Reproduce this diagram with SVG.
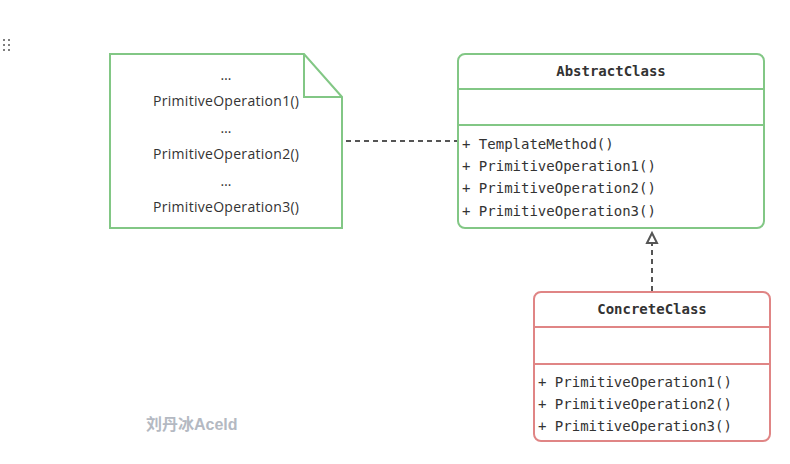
<svg xmlns="http://www.w3.org/2000/svg" width="790" height="464" viewBox="0 0 790 464">
<defs>
<style>
.note{font-family:"Open Sans","Liberation Sans",sans-serif;font-size:14px;fill:#333;text-anchor:middle}
.mono{font-family:"DejaVu Sans Mono","Liberation Mono",monospace;font-size:14px;fill:#333}
.title{font-weight:bold;text-anchor:middle}
.green{fill:#fff;stroke:#82c785;stroke-width:2}
.gline{fill:none;stroke:#82c785;stroke-width:2}
.red{fill:#fff;stroke:#e08585;stroke-width:2}
.rline{fill:none;stroke:#e08585;stroke-width:2}
.conn{fill:none;stroke:#555;stroke-width:2;stroke-dasharray:5 4}
</style>
<marker id="tri" markerWidth="14" markerHeight="14" refX="6" refY="7" orient="auto" markerUnits="userSpaceOnUse">
<path d="M1,2 L11,7 L1,12 Z" fill="#fff" stroke="#555" stroke-width="2"/>
</marker>
</defs>
<rect width="790" height="464" fill="#fff"/>
<g id="handle" fill="#555">
<circle cx="4" cy="40" r="1"/><circle cx="9" cy="40" r="1"/>
<circle cx="4" cy="45" r="1"/><circle cx="9" cy="45" r="1"/>
<circle cx="4" cy="50" r="1"/><circle cx="9" cy="50" r="1"/>
</g>
<g id="connectors">
<path class="conn" d="M346,141 L457,141"/>
<path class="conn" d="M652,291 L652,238" marker-end="url(#tri)"/>
</g>
<g id="note">
<path class="green" d="M110,54 L304,54 L342,97 L342,228 L110,228 Z"/>
<path class="gline" d="M304,54 L304,97 L342,97"/>
<text class="note" x="226" y="80">…</text>
<text class="note" x="226" y="106" textLength="146">PrimitiveOperation1()</text>
<text class="note" x="226" y="133">…</text>
<text class="note" x="226" y="159" textLength="146">PrimitiveOperation2()</text>
<text class="note" x="226" y="186">…</text>
<text class="note" x="226" y="212" textLength="146">PrimitiveOperation3()</text>
</g>
<g id="abstractClass">
<rect class="green" x="458" y="54" width="306" height="174" rx="7"/>
<line class="gline" x1="458" y1="89" x2="764" y2="89"/>
<line class="gline" x1="458" y1="125" x2="764" y2="125"/>
<text class="mono title" x="611" y="76">AbstractClass</text>
<text class="mono" x="462" y="149">+ TemplateMethod()</text>
<text class="mono" x="462" y="171">+ PrimitiveOperation1()</text>
<text class="mono" x="462" y="193">+ PrimitiveOperation2()</text>
<text class="mono" x="462" y="216">+ PrimitiveOperation3()</text>
</g>
<g id="concreteClass">
<rect class="red" x="534" y="292" width="236" height="149" rx="7"/>
<line class="rline" x1="534" y1="327" x2="770" y2="327"/>
<line class="rline" x1="534" y1="364" x2="770" y2="364"/>
<text class="mono title" x="652" y="314">ConcreteClass</text>
<text class="mono" x="538" y="387">+ PrimitiveOperation1()</text>
<text class="mono" x="538" y="409">+ PrimitiveOperation2()</text>
<text class="mono" x="538" y="431">+ PrimitiveOperation3()</text>
</g>
<text x="146" y="430" font-family="'Liberation Sans','Noto Sans CJK SC',sans-serif" font-size="16" font-weight="bold" fill="#b4b9c2">刘丹冰Aceld</text>
</svg>
